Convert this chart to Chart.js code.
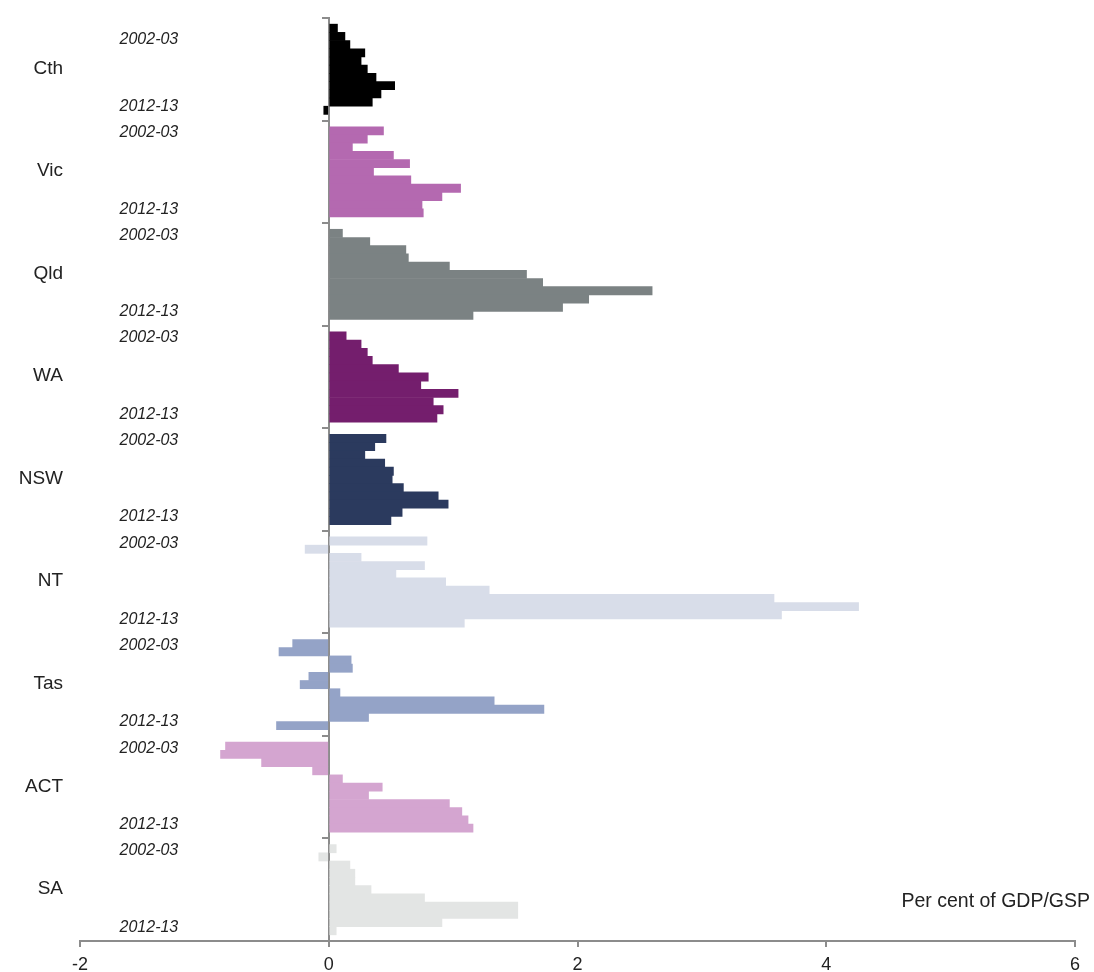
<!DOCTYPE html>
<html>
<head>
<meta charset="utf-8">
<script src="https://cdn.jsdelivr.net/npm/chart.js@4/dist/chart.umd.min.js"></script>
<style>
  body { margin: 0; background: #fff; }
  #wrap { width: 1094px; height: 972px; }
</style>
</head>
<body>
<div id="wrap"><canvas id="grafik"></canvas></div>
<script>
// data, per cent of GDP/GSP
const years = ['2002-03', '2003-04', '2004-05', '2005-06', '2006-07', '2007-08',
               '2008-09', '2009-10', '2010-11', '2011-12', '2012-13'];
const groups = ['Cth', 'Vic', 'Qld', 'WA', 'NSW', 'NT', 'Tas', 'ACT', 'SA'];
const cth = [0.07, 0.13, 0.17, 0.29, 0.26, 0.31, 0.38, 0.53, 0.42, 0.35, -0.04];
const vic = [0.44, 0.31, 0.19, 0.52, 0.65, 0.36, 0.66, 1.06, 0.91, 0.75, 0.76];
const qld = [0.11, 0.33, 0.62, 0.64, 0.97, 1.59, 1.72, 2.60, 2.09, 1.88, 1.16];
const wa  = [0.14, 0.26, 0.31, 0.35, 0.56, 0.80, 0.74, 1.04, 0.84, 0.92, 0.87];
const nsw = [0.46, 0.37, 0.29, 0.45, 0.52, 0.51, 0.60, 0.88, 0.96, 0.59, 0.50];
const nt  = [0.79, -0.19, 0.26, 0.77, 0.54, 0.94, 1.29, 3.58, 4.26, 3.64, 1.09];
const tas = [-0.29, -0.40, 0.18, 0.19, -0.16, -0.23, 0.09, 1.33, 1.73, 0.32, -0.42];
const act = [-0.83, -0.87, -0.54, -0.13, 0.11, 0.43, 0.32, 0.97, 1.07, 1.12, 1.16];
const sa  = [0.06, -0.08, 0.17, 0.21, 0.21, 0.34, 0.77, 1.52, 1.52, 0.91, 0.06];
const xTicks = [-2, 0, 2, 4, 6];

const series = [cth, vic, qld, wa, nsw, nt, tas, act, sa];
const colours = ['#000000', '#b469b0', '#7b8283', '#741e6d', '#2b3a5e',
                 '#d8dde9', '#94a3c7', '#d4a5d0', '#e3e5e4'];

// each state gets a block of 12.5 rows on the y scale, bars are one row tall
const span = 12.5;
const total = span * groups.length;
const rowPos = (g, i) => g * span + 1.25 + i;

const datasets = series.map((vals, g) => ({
    label: groups[g],
    data: vals.map((v, i) => ({ x: v, y: rowPos(g, i) })),
    backgroundColor: colours[g],
    borderWidth: 0,
    grouped: false,
    barPercentage: 1,
    categoryPercentage: 1
}));

const boundaryTicks = groups.map((_, g) => g * span).concat([total]);
const groupTicks = groups.map((_, g) => g * span + 6.15);
const yearTicks = [];
const yearText = [];
groups.forEach((_, g) => {
    yearTicks.push(g * span + (g === 0 ? 2.6 : 1.5));
    yearText.push(years[0]);
    yearTicks.push(g * span + 10.8);
    yearText.push(years[years.length - 1]);
});

const axisGrey = '#8c8c8c';
const unitText = {
    id: 'unitText',
    afterDraw(chart) {
        const { ctx, chartArea } = chart;
        ctx.save();
        ctx.font = '19.5px "Liberation Sans", Arial, sans-serif';
        ctx.fillStyle = '#222';
        ctx.textAlign = 'right';
        ctx.textBaseline = 'middle';
        ctx.fillText('Per cent of GDP/GSP', chartArea.right + 15, chartArea.bottom - 39);
        ctx.restore();
    }
};

Chart.defaults.font.family = '"Liberation Sans", Arial, sans-serif';

new Chart(document.getElementById('grafik'), {
    type: 'bar',
    data: { datasets: datasets },
    plugins: [unitText],
    options: {
        indexAxis: 'y',
        responsive: true,
        maintainAspectRatio: false,
        animation: false,
        layout: { padding: { top: 18, right: 19, bottom: 0, left: 0 } },
        plugins: {
            legend: { display: false },
            tooltip: { enabled: false }
        },
        scales: {
            x: {
                type: 'linear',
                min: -2,
                max: 6,
                position: 'bottom',
                afterBuildTicks: (s) => { s.ticks = xTicks.map(v => ({ value: v })); },
                afterFit: (s) => { s.height = 31; },
                ticks: { font: { size: 18 }, color: '#222', padding: 7 },
                grid: { display: true, drawOnChartArea: false, drawTicks: true, tickLength: 6, color: axisGrey, lineWidth: 2 },
                border: { color: axisGrey, width: 2 }
            },
            y: {
                type: 'linear',
                min: 0,
                max: total,
                reverse: true,
                offset: false,
                position: { x: 0 },
                afterBuildTicks: (s) => { s.ticks = boundaryTicks.map(v => ({ value: v })); },
                ticks: { display: false },
                grid: { display: true, offset: false, drawOnChartArea: false, drawTicks: true, tickLength: 6, color: axisGrey, lineWidth: 2 },
                border: { color: axisGrey, width: 2 }
            },
            yYear: {
                type: 'linear',
                min: 0,
                max: total,
                reverse: true,
                offset: false,
                position: { x: -1.21 },
                afterBuildTicks: (s) => { s.ticks = yearTicks.map(v => ({ value: v })); },
                ticks: {
                    autoSkip: false,
                    padding: 0,
                    color: '#222',
                    font: { size: 16, style: 'italic' },
                    callback: (v, i) => yearText[i]
                },
                grid: { display: false, offset: false, drawTicks: false },
                border: { display: false }
            },
            yGroup: {
                type: 'linear',
                min: 0,
                max: total,
                reverse: true,
                offset: false,
                position: 'left',
                afterBuildTicks: (s) => { s.ticks = groupTicks.map(v => ({ value: v })); },
                afterFit: (s) => { s.width = 80; },
                ticks: {
                    autoSkip: false,
                    padding: 0,
                    color: '#222',
                    font: { size: 19 },
                    callback: (v, i) => groups[i]
                },
                // invisible tick marks only used to push the labels away from the plot
                grid: { display: false, offset: false, drawTicks: true, tickLength: 17 },
                border: { display: false }
            }
        }
    }
});
</script>
</body>
</html>
